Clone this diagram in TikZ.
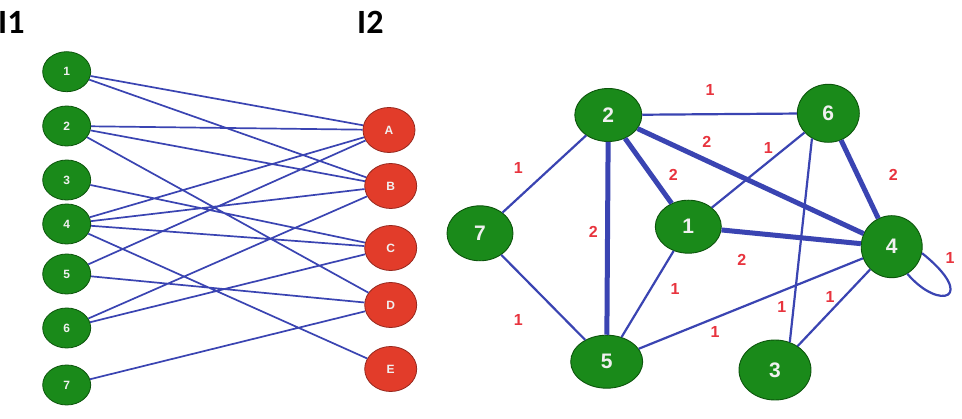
\documentclass[tikz,border=0pt]{standalone}
\usepackage{fontspec}
\setmainfont{Liberation Sans}
\newfontfamily\titlefont{Carlito}
\usetikzlibrary{shapes.geometric}
\definecolor{gfill}{RGB}{26,138,26}
\definecolor{gdraw}{RGB}{12,85,12}
\definecolor{rfill}{RGB}{226,60,42}
\definecolor{rdraw}{RGB}{150,40,30}
\definecolor{eblue}{RGB}{58,68,178}
\definecolor{wred}{RGB}{232,52,62}
\begin{document}
\begin{tikzpicture}[x=1pt,y=-1pt,
  gsmall/.style={ellipse,fill=gfill,draw=gdraw,line width=0.8pt,minimum width=48pt,minimum height=40pt,inner sep=0pt,text=white!88!gray,font=\fontsize{12}{12}\selectfont\bfseries},
  rsmall/.style={ellipse,fill=rfill,draw=rdraw,line width=0.8pt,minimum width=52pt,minimum height=45pt,inner sep=0pt,text=white!88!gray,font=\fontsize{12}{12}\selectfont\bfseries},
  gbig/.style={ellipse,fill=gfill,draw=gdraw,line width=0.9pt,inner sep=0pt,text=white!88!gray,font=\fontsize{21}{21}\selectfont\bfseries},
  bedge/.style={draw=eblue,line width=1.7pt},
  thinedge/.style={draw=eblue,line width=2.2pt},
  thickedge/.style={draw=eblue,line width=5pt},
  wlab/.style={text=wred,font=\fontsize{16}{16}\selectfont\bfseries,inner sep=0pt},
  ttl/.style={font=\titlefont\fontsize{34}{34}\selectfont\bfseries,inner sep=0pt,anchor=west}
]
\useasboundingbox (0,0) rectangle (962,419);
\fill[white] (0,0) rectangle (962,419);
% titles
\node[ttl] (t1) at (-2,22) {I1};
\node[ttl] (t2) at (357,22) {I2};
% left bipartite nodes
\node[gsmall] (l1) at (66.7,71.7) {1};
\node[gsmall] (l2) at (66.7,126) {2};
\node[gsmall] (l3) at (66.7,180) {3};
\node[gsmall] (l4) at (66.7,224) {4};
\node[gsmall] (l5) at (66.7,274) {5};
\node[gsmall] (l6) at (66.7,328) {6};
\node[gsmall] (l7) at (66.7,385) {7};
\node[rsmall] (A) at (389,130) {A};
\node[rsmall] (B) at (390.7,186) {B};
\node[rsmall] (C) at (390.7,248) {C};
\node[rsmall] (D) at (390.7,305) {D};
\node[rsmall] (E) at (390.7,369) {E};
% left edges
\path[bedge] (l1) -- (A) (l1) -- (B)
  (l2) -- (A) (l2) -- (B) (l2) -- (D)
  (l3) -- (C)
  (l4) -- (A) (l4) -- (B) (l4) -- (C) (l4) -- (E)
  (l5) -- (A) (l5) -- (D)
  (l6) -- (B) (l6) -- (C)
  (l7) -- (D);
% right graph nodes
\node[gbig,minimum width=67pt,minimum height=53pt] (n2) at (608.3,115) {2};
\node[gbig,minimum width=62pt,minimum height=58pt] (n6) at (828.3,113.3) {6};
\node[gbig,minimum width=66pt,minimum height=55pt] (n7) at (480,233.3) {7};
\node[gbig,minimum width=66pt,minimum height=53pt] (n1) at (688.3,226.7) {1};
\node[gbig,minimum width=61pt,minimum height=62pt] (n4) at (891.7,246.7) {4};
\node[gbig,minimum width=72pt,minimum height=53pt] (n5) at (606.7,361.7) {5};
\node[gbig,minimum width=72pt,minimum height=60pt] (n3) at (775,370) {3};
% right edges
\path[thinedge] (n2) -- (n6) (n2) -- (n7) (n6) -- (n1) (n6.-123) -- (n3.62)
  (n1) -- (n5) (n7) -- (n5) (n5) -- (n4) (n4) -- (n3);
\path[thickedge] (n2) -- (n5) (n2) -- (n1) (n2) -- (n4) (n6) -- (n4) (n1) -- (n4);
\path[thinedge] (n4.-12) .. controls (978,298) and (940,312) .. (n4.-60);
% weight labels
\node[wlab] (w26) at (710,90) {1};
\node[wlab] (w27) at (518.3,168.3) {1};
\node[wlab] (w25) at (593.3,231.7) {2};
\node[wlab] (w21) at (673.3,175) {2};
\node[wlab] (w24) at (706.7,141.7) {2};
\node[wlab] (w61) at (768.3,148.3) {1};
\node[wlab] (w63) at (781.7,306.7) {1};
\node[wlab] (w64) at (893.3,175) {2};
\node[wlab] (w14) at (741.7,260) {2};
\node[wlab] (w15) at (675,289.3) {1};
\node[wlab] (w75) at (518.3,320) {1};
\node[wlab] (w54) at (715,331.7) {1};
\node[wlab] (w43) at (830,297.3) {1};
\node[wlab] (w44) at (950,258.3) {1};
\end{tikzpicture}
\end{document}
